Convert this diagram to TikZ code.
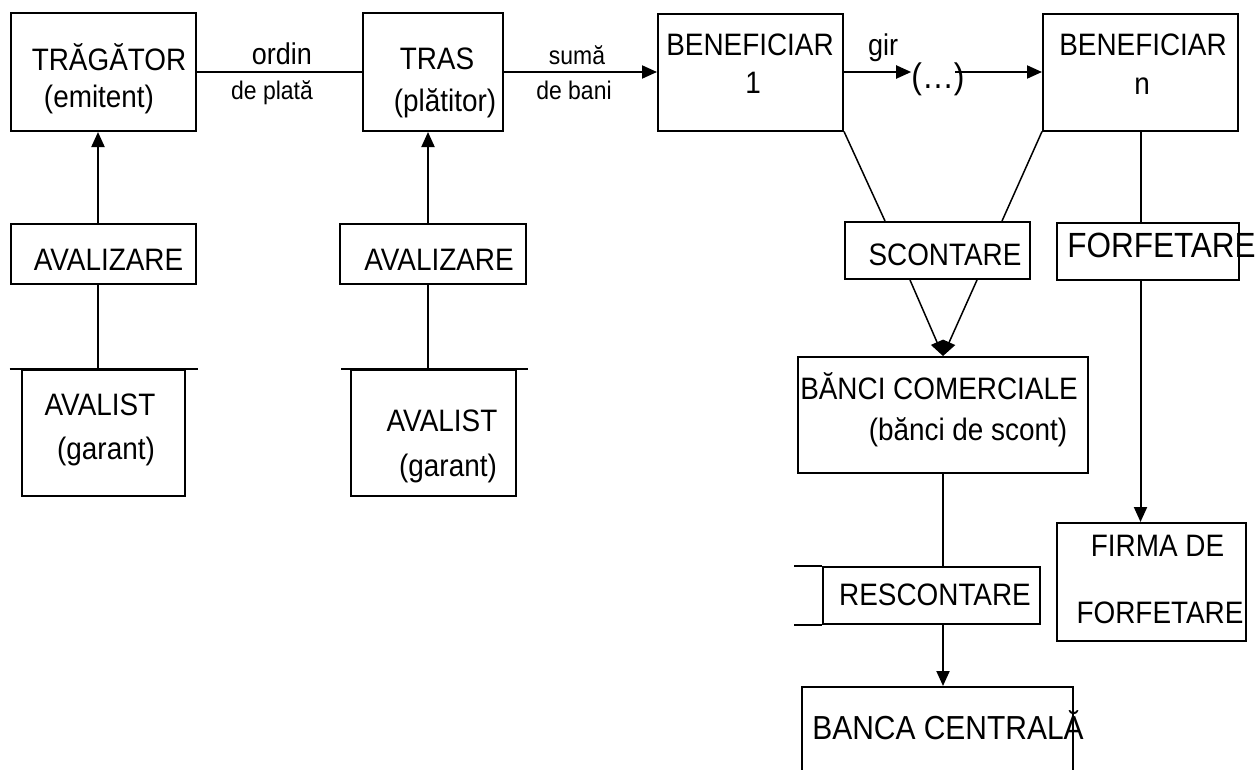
\documentclass[tikz,border=0pt]{standalone}
\usepackage{fontspec}
\setmainfont{Liberation Sans}[FakeStretch=0.9]
\usetikzlibrary{arrows.meta, positioning}

\begin{document}
\begin{tikzpicture}[x=1pt, y=-1pt,
  box/.style={draw, line width=2pt, inner sep=0pt},
  txt/.style={anchor=base, inner sep=0pt, font=\fontsize{31}{34}\selectfont},
  lbl/.style={anchor=base, inner sep=0pt, font=\fontsize{25.5}{28}\selectfont},
  link/.style={line width=2pt},
  arr/.style={line width=2pt, -{Triangle[length=15pt, width=13pt]}}]
  \useasboundingbox (0,0) rectangle (1258,769);
  \clip (0,0) rectangle (1258,769);

  % Top row
  \node[box, minimum width=185pt, minimum height=118pt] (trag) at (103,72) {};
  \node[txt] at (109,70) {TRĂGĂTOR};
  \node[txt] at (99,107) {(emitent)};

  \node[box, minimum width=140pt, minimum height=118pt] (tras) at (433,72) {};
  \node[txt] at (437,69) {TRAS};
  \node[txt] at (445,111) {(plătitor)};

  \node[box, minimum width=185pt, minimum height=117pt] (ben1) at (750.5,72) {};
  \node[txt] at (750,55) {BENEFICIAR};
  \node[txt] at (753,93) {1};

  \node[txt, font=\fontsize{35.5}{38}\selectfont] (dots) at (938,88) {(…)};
  \coordinate (girout) at (955,72);

  \node[box, minimum width=195pt, minimum height=117pt] (benn) at (1140.5,72) {};
  \node[txt] at (1143,55) {BENEFICIAR};
  \node[txt] at (1142,94) {n};

  % Top row connectors
  \draw[link] (trag) -- (tras);
  \node[txt, font=\fontsize{30}{33}\selectfont] at (282,64) {ordin};
  \node[lbl] at (272,99) {de plată};

  \draw[arr] (tras) -- (ben1);
  \node[lbl] at (577,64) {sumă};
  \node[lbl] at (574,99) {de bani};

  \draw[arr] (ben1) -- (ben1 -| dots.west);
  \node[txt, font=\fontsize{30}{33}\selectfont] at (883,55) {gir};
  \draw[arr] (girout) -- (benn.west);

  % Avalizare (tragator)
  \node[box, minimum width=185pt, minimum height=60pt] (avz1) at (103,254) {};
  \node[txt] at (108.5,270) {AVALIZARE};
  \node[box, minimum width=163pt, minimum height=126pt] (avl1) at (103,433) {};
  \node[txt] at (100,415) {AVALIST};
  \node[txt] at (106,459) {(garant)};
  \draw[link] ([xshift=-11pt]avl1.north west) -- ([xshift=12pt]avl1.north east);
  \draw[arr] ([xshift=-5pt]avz1.north) -- ([xshift=-5pt]trag.south);
  \draw[link] ([xshift=-5pt]avl1.north) -- ([xshift=-5pt]avz1.south);

  % Avalizare (tras)
  \node[box, minimum width=186pt, minimum height=60pt] (avz2) at (433,254) {};
  \node[txt] at (439,270) {AVALIZARE};
  \node[box, minimum width=165pt, minimum height=126pt] (avl2) at (433,433) {};
  \node[txt] at (442,431) {AVALIST};
  \node[txt] at (448,476) {(garant)};
  \draw[link] ([xshift=-8.5pt]avl2.north west) -- ([xshift=11.5pt]avl2.north east);
  \draw[arr] ([xshift=-5pt]avz2.north) -- ([xshift=-5pt]tras.south);
  \draw[link] ([xshift=-5pt]avl2.north) -- ([xshift=-5pt]avz2.south);

  % Scontare / forfetare
  \node[box, minimum width=185pt, minimum height=57pt] (scont) at (937.5,250.5) {};
  \node[txt] at (945,265) {SCONTARE};
  \node[box, minimum width=182pt, minimum height=57pt] (forf) at (1148,251.5) {};
  \node[txt, font=\fontsize{35}{38}\selectfont] at (1161.5,257) {FORFETARE};

  \node[box, minimum width=290pt, minimum height=116pt] (banci) at (943,415) {};
  \node[txt] at (939,399) {BĂNCI COMERCIALE};
  \node[txt] at (968,440) {(bănci de scont)};

  \node[box, minimum width=189pt, minimum height=118pt] (firma) at (1151.5,582) {};
  \node[txt] at (1157.5,556) {FIRMA DE};
  \node[txt] at (1160,623) {FORFETARE};

  \node[box, minimum width=217pt, minimum height=57pt] (resc) at (931.5,595.5) {};
  \node[txt] at (935,605) {RESCONTARE};
  \draw[link] ([xshift=-28pt]resc.north west) -- (resc.north west);
  \draw[link] ([xshift=-28pt]resc.south west) -- (resc.south west);

  \node[box, minimum width=271pt, minimum height=120pt] (bcen) at (937.5,747) {};
  \node[txt, font=\fontsize{33.3}{36}\selectfont] at (948,739) {BANCA CENTRALĂ};

  % Right connectors
  \draw[link, line width=1.5pt] (ben1.south east) -- ([xshift=-52.5pt]scont.north);
  \draw[link, line width=1.5pt] (benn.south west) -- ([xshift=64.5pt]scont.north);
  \draw[arr, line width=1.5pt] ([xshift=-27.5pt]scont.south) -- (banci.north);
  \draw[arr, line width=1.5pt] ([xshift=39.5pt]scont.south) -- (banci.north);
  \draw[link] (benn.south) -- (benn.south |- forf.north);
  \draw[arr] (benn.south |- forf.south) -- (benn.south |- firma.north);
  \draw[link] (banci.south) -- (banci.south |- resc.north);
  \draw[arr] (banci.south |- resc.south) -- (banci.south |- bcen.north);
\end{tikzpicture}
\end{document}
